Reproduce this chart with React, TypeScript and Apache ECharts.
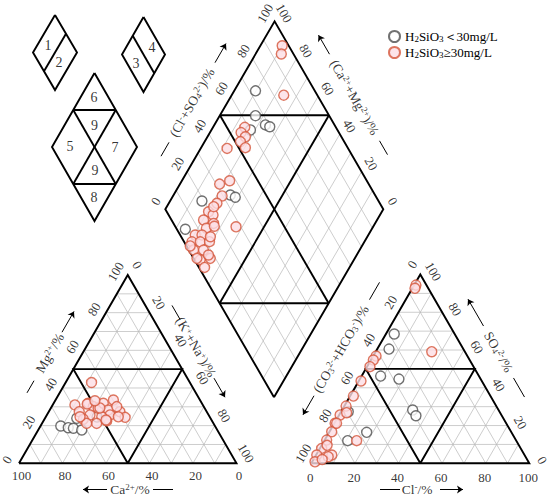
import React, { useEffect, useRef } from 'react';
import * as echarts from 'echarts';

// ---------------- DATA ----------------
const TICK_VALUES = [0, 20, 40, 60, 80, 100];
const SERIES_NAMES = ['H2SiO3<30mg/L', 'H2SiO3>=30mg/L'];

// Cation triangle: [Ca2+ %, Mg2+ %]  (K+ + Na+ is the remainder)
const cationLow: number[][] = [
  [70.9, 19.8], [67.9, 18.9], [65.7, 18.6], [62.3, 17.7], [61.5, 23.9], [51.8, 24.6],
];
const cationHigh: number[][] = [
  [45.2, 42.9], [58.8, 31.0], [58.6, 27.4], [52.2, 31.9], [50.8, 30.1], [49.0, 29.2],
  [45.3, 31.9], [39.8, 33.6], [44.8, 28.3], [39.9, 27.4], [39.0, 24.4], [45.3, 25.7],
  [49.6, 24.7], [54.5, 25.7], [58.7, 23.4], [48.4, 22.5], [53.7, 21.2], [58.3, 21.2],
  [59.6, 24.7], [42.0, 24.7], [40.0, 30.1], [52.9, 31.5], [48.1, 29.4], [48.5, 33.2],
  [48.5, 23.0],
];

// Anion triangle: [Cl- %, SO4 2- %]  (CO3 2- + HCO3- is the remainder)
const anionLow: number[][] = [
  [3.8, 68.5], [5.4, 60.5], [8.7, 46.2], [17.9, 44.6], [32.4, 28.2], [35.4, 25.2],
  [17.2, 16.4], [10.7, 12.0], [3.3, 27.3],
];
const anionHigh: number[][] = [
  [0.8, 94.4], [1.2, 92.7], [1.3, 56.8], [1.1, 54.7], [1.3, 51.2], [1.0, 43.6],
  [1.5, 35.6], [0.8, 30.3], [0.4, 25.6], [0.3, 21.2], [1.0, 16.7], [0.9, 12.3],
  [0.8, 7.9], [0.3, 4.4], [1.3, 0.8], [7.2, 4.4], [6.0, 3.5], [14.8, 12.0],
  [25.7, 59.1], [2.8, 26.8], [1.0, 21.2], [2.5, 9.5], [4.0, 2.0],
];

// Diamond: [Ca2+ + Mg2+ %, Cl- + SO4 2- %]
const diamondLow: number[][] = [
  [90.2, 72.8], [83.6, 66.2], [76.6, 68.3], [74.1, 69.8], [82.1, 60.1], [74.0, 33.6],
  [71.1, 35.3], [85.4, 19.0], [85.5, 3.9],
];
const diamondHigh: number[][] = [
  [90.0, 97.0], [88.2, 94.4], [76.1, 84.6], [85.4, 58.2], [85.7, 55.1], [82.6, 56.0],
  [83.6, 52.4], [79.7, 53.1], [87.9, 44.5], [78.1, 37.1], [81.8, 31.6], [77.5, 29.6],
  [77.9, 25.3], [79.5, 19.2], [76.6, 20.4], [79.6, 14.7], [74.1, 18.4], [76.1, 13.8],
  [73.0, 18.0], [79.4, 6.9], [76.3, 10.0], [79.1, 3.6], [75.3, 7.4], [71.1, 11.7],
  [76.2, 2.2], [71.6, 6.7], [66.3, 7.6], [70.5, 2.6], [66.5, 2.6], [62.9, 27.8],
  [78.8, 1.7], [78.5, 22.9], [72.0, 13.4], [72.4, 1.5], [68.0, 7.7],
];

// Hydrochemical-type schematic labels
const SCHEME_LABELS = ['1', '2', '3', '4', '6', '9', '5', '7', '9', '8'];

// ---------------- LAYOUT ----------------
type P = [number, number];
const FONT = "'Liberation Serif', 'Times New Roman', serif";
const GRAY = '#4d4d4d';
const RED = '#d4553a';
const RED_FILL = '#fcdde3';

const LT = { a: [19, 463.3] as P, b: [236.5, 463.3] as P, c: [127.75, 275] as P }; // Ca, Na+K, Mg
const RT = { a: [311.3, 463.3] as P, b: [529.3, 463.3] as P, c: [420.3, 274.5] as P }; // HCO3, Cl, SO4
const DB: P = [274, 397.3];
const DL: P = [165.3, 209.3];
const DR: P = [383.3, 209.3];

function tern(T: { a: P; b: P; c: P }, wa: number, wb: number, wc: number): P {
  return [
    (wa * T.a[0] + wb * T.b[0] + wc * T.c[0]) / 100,
    (wa * T.a[1] + wb * T.b[1] + wc * T.c[1]) / 100,
  ];
}
function dia(cm: number, cs: number): P {
  return [
    DB[0] + (cm / 100) * (DL[0] - DB[0]) + (cs / 100) * (DR[0] - DB[0]),
    DB[1] + (cm / 100) * (DL[1] - DB[1]) + (cs / 100) * (DR[1] - DB[1]),
  ];
}
const add = (p: P, o: P): P => [p[0] + o[0], p[1] + o[1]];
function along(c: P, deg: number, d: number): P {
  const r = (deg * Math.PI) / 180;
  return [c[0] + d * Math.cos(r), c[1] - d * Math.sin(r)];
}

function buildPoints(cat: number[][], an: number[][], dm: number[][]): P[] {
  const out: P[] = [];
  cat.forEach(([ca, mg]) => out.push(tern(LT, ca, 100 - ca - mg, mg)));
  an.forEach(([cl, so4]) => out.push(tern(RT, 100 - cl - so4, cl, so4)));
  dm.forEach(([cm, cs]) => out.push(dia(cm, cs)));
  return out;
}

const thin: P[][] = [];
const thick: P[][] = [];
[LT, RT].forEach((T) => {
  for (let t = 10; t < 100; t += 10) {
    thin.push([tern(T, t, 100 - t, 0), tern(T, t, 0, 100 - t)]);
    thin.push([tern(T, 100 - t, t, 0), tern(T, 0, t, 100 - t)]);
    thin.push([tern(T, 100 - t, 0, t), tern(T, 0, 100 - t, t)]);
  }
  thick.push([T.a, T.b, T.c, T.a]);
  thick.push([tern(T, 50, 50, 0), tern(T, 50, 0, 50), tern(T, 0, 50, 50), tern(T, 50, 50, 0)]);
});
for (let t = 10; t < 100; t += 10) {
  thin.push([dia(t, 0), dia(t, 100)]);
  thin.push([dia(0, t), dia(100, t)]);
}
thick.push([dia(0, 0), dia(100, 0), dia(100, 100), dia(0, 100), dia(0, 0)]);
thick.push([dia(50, 0), dia(50, 100)]);
thick.push([dia(0, 50), dia(100, 50)]);
thick.push([dia(100, 50), dia(50, 100)]);
thick.push([dia(50, 0), dia(0, 50)]);

// schematic (small key diagrams, top-left)
const SCHEME_LINES: P[][] = [
  [[55, 15], [33, 52.5], [55, 90], [77, 52.5], [55, 15]],
  [[66, 33.75], [44, 71.25]],
  [[143.5, 17], [122, 54.5], [143.5, 92], [165, 54.5], [143.5, 17]],
  [[132.75, 35.75], [154.25, 73.25]],
  [[94.5, 73], [52, 147], [94.5, 221], [137, 147], [94.5, 73]],
  [[73.25, 110], [115.75, 110]],
  [[73.25, 184], [115.75, 184]],
  [[73.25, 110], [115.75, 184]],
  [[115.75, 110], [73.25, 184]],
];
const SCHEME_POS: P[] = [
  [48, 45], [59, 62], [136, 63], [152, 47], [94, 97], [94.5, 125], [70, 146], [115, 147], [95, 170], [94, 197],
];

// tick labels
const tickItems: any[] = [];
const tick = (p: P, off: P, text: string, rotate: number) =>
  tickItems.push({ value: add(p, off), name: text, label: { rotate } });
TICK_VALUES.forEach((v) => {
  const s = String(v);
  tick(tern(LT, v, 100 - v, 0), [2.5, 12.5], s, 0);
  tick(tern(LT, 100 - v, 0, v), [-12, -3.5], s, 60);
  tick(tern(LT, 0, v, 100 - v), [9.5, -10], s, -60);
  tick(tern(RT, 100 - v, v, 0), [-1, 14], s, 0);
  tick(tern(RT, v, 0, 100 - v), [-8, -10], s, 60);
  tick(tern(RT, 0, 100 - v, v), [13, -3], s, -60);
  tick(dia(100, v), [-9.5, -8], s, 60);
  tick(dia(v, 100), [9.5, -8], s, -60);
});

const TITLES: { text: string; c: P; deg: number; dash: P; arrow: P }[] = [
  { text: 'Ca{sup|2+}/%', c: [130, 489.5], deg: 0, dash: [23, 43], arrow: [-23, -47] },
  { text: 'Mg{sup|2+}/%', c: [50, 353], deg: 60, dash: [-46, -32], arrow: [24, 48] },
  { text: '(K{sup|+}+Na{sup|+})/%', c: [196, 347], deg: -60, dash: [-48, -32], arrow: [36, 58] },
  { text: 'Cl{sup|-}/%', c: [417, 489.5], deg: 0, dash: [-37, -17], arrow: [23, 46] },
  { text: '(CO{sub|3}{sup|2-}+HCO{sub|3}{sup|-})/%', c: [341, 349], deg: 60, dash: [57, 77], arrow: [-54, -76] },
  { text: 'SO{sub|4}{sup|2-}/%', c: [498.5, 352], deg: -60, dash: [30, 52], arrow: [-30, -61] },
  { text: '(Cl{sup|-}+SO{sub|4}{sup|2-})/%', c: [192, 102.5], deg: 60, dash: [-62, -46], arrow: [46, 68] },
  { text: '(Ca{sup|2+}+Mg{sup|2+})/%', c: [354.5, 97.5], deg: -60, dash: [50, 66], arrow: [-50, -72] },
];

const RICH = {
  sup: { fontSize: 9, verticalAlign: 'top', fontFamily: FONT, color: '#000', lineHeight: 10 },
  sub: { fontSize: 9, verticalAlign: 'bottom', fontFamily: FONT, color: '#000', lineHeight: 10 },
};

function buildOption(): any {
  const dashLines: any[] = [];
  const arrowLines: any[] = [];
  const titleItems: any[] = [];
  TITLES.forEach((t) => {
    dashLines.push({ coords: [along(t.c, t.deg, t.dash[0]), along(t.c, t.deg, t.dash[1])] });
    arrowLines.push({ coords: [along(t.c, t.deg, t.arrow[0]), along(t.c, t.deg, t.arrow[1])] });
    titleItems.push({ value: t.c, name: t.text, label: { rotate: t.deg } });
  });
  const schemeItems = SCHEME_LABELS.map((s, i) => ({ value: SCHEME_POS[i], name: s }));

  const textSeries = (data: any[], fontSize: number, lineHeight: number) => ({
    type: 'scatter',
    symbolSize: 1,
    silent: true,
    itemStyle: { color: 'rgba(0,0,0,0)' },
    label: {
      show: true, position: 'inside', align: 'center', verticalAlign: 'middle',
      formatter: (p: any) => p.name, color: '#000', fontFamily: FONT, fontSize, lineHeight, rich: RICH,
    },
    data, z: 6,
  });

  return {
    animation: false,
    backgroundColor: '#fff',
    grid: { left: 0, top: 0, right: 0, bottom: 0 },
    xAxis: { type: 'value', min: 0, max: 550, show: false },
    yAxis: { type: 'value', min: 0, max: 496, inverse: true, show: false },
    legend: {
      orient: 'vertical', left: 383, top: 25, itemWidth: 11, itemHeight: 11, itemGap: 3,
      data: SERIES_NAMES,
      formatter: (n: string) =>
        n === SERIES_NAMES[0] ? 'H{sub|2}SiO{sub|3}\uFF1C30mg/L' : 'H{sub|2}SiO{sub|3}\u226530mg/L',
      textStyle: { fontFamily: FONT, fontSize: 13, color: '#000', rich: RICH },
    },
    series: [
      {
        type: 'lines', coordinateSystem: 'cartesian2d', polyline: true, silent: true, z: 1,
        lineStyle: { color: '#b8b8b8', width: 0.7, opacity: 1 },
        data: thin.map((c) => ({ coords: c })),
      },
      {
        type: 'lines', coordinateSystem: 'cartesian2d', polyline: true, silent: true, z: 2,
        lineStyle: { color: '#000', width: 1.9, opacity: 1 },
        data: thick.concat(SCHEME_LINES).map((c) => ({ coords: c })),
      },
      {
        type: 'lines', coordinateSystem: 'cartesian2d', silent: true, z: 2,
        lineStyle: { color: '#000', width: 1, opacity: 1 },
        data: dashLines,
      },
      {
        type: 'lines', coordinateSystem: 'cartesian2d', silent: true, z: 2,
        symbol: ['none', 'arrow'], symbolSize: 6,
        lineStyle: { color: '#000', width: 1, opacity: 1 },
        data: arrowLines,
      },
      {
        name: SERIES_NAMES[0], type: 'scatter', symbol: 'circle', symbolSize: 10, z: 4,
        itemStyle: { color: '#fff', borderColor: GRAY, borderWidth: 1.4 },
        data: buildPoints(cationLow, anionLow, diamondLow),
      },
      {
        name: SERIES_NAMES[1], type: 'scatter', symbol: 'circle', symbolSize: 10, z: 5,
        itemStyle: { color: RED_FILL, borderColor: RED, borderWidth: 1.4 },
        data: buildPoints(cationHigh, anionHigh, diamondHigh),
      },
      textSeries(tickItems, 13, 14),
      textSeries(titleItems, 13.5, 14),
      textSeries(schemeItems, 14, 15),
    ],
  };
}

export default function App() {
  const ref = useRef<HTMLDivElement>(null);
  useEffect(() => {
    document.body.style.margin = '0';
    const chart = echarts.init(ref.current!, undefined, { renderer: 'svg', width: 550, height: 496 });
    chart.setOption(buildOption());
    return () => chart.dispose();
  }, []);
  return <div ref={ref} style={{ width: 550, height: 496 }} />;
}
